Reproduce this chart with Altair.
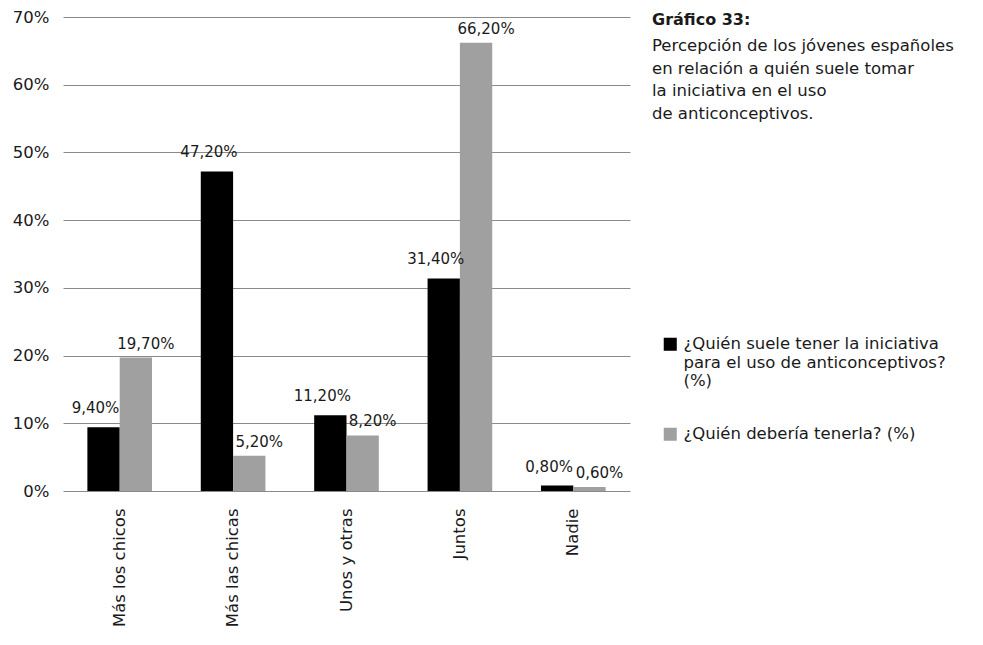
import altair as alt
import pandas as pd

categories = ["Más los chicos", "Más las chicas", "Unos y otras", "Juntos", "Nadie"]
series = [
    "¿Quién suele tener la iniciativa|para el uso de anticonceptivos?|(%)",
    "¿Quién debería tenerla? (%)",
]
tiene = [9.4, 47.2, 11.2, 31.4, 0.8]
deberia = [19.7, 5.2, 8.2, 66.2, 0.6]
y_ticks = [0, 10, 20, 30, 40, 50, 60, 70]
title_bold = "Gráfico 33:"
title_lines = [
    "Percepción de los jóvenes españoles",
    "en relación a quién suele tomar",
    "la iniciativa en el uso",
    "de anticonceptivos.",
]
colors = ["#000000", "#a0a0a0"]

rows = []
for c, a, b in zip(categories, tiene, deberia):
    rows.append({"cat": c, "serie": series[0], "value": a})
    rows.append({"cat": c, "serie": series[1], "value": b})
df = pd.DataFrame(rows)

FONT = "DejaVu Sans"
TXT = "#1a1a1a"
W, H = 567, 474
BODY = 16.5

base = alt.Chart(df).encode(
    x=alt.X("cat:N", sort=categories,
            scale=alt.Scale(paddingInner=0.43, paddingOuter=0.215),
            axis=alt.Axis(title=None, labelAngle=-90, labelFontSize=16.5, labelFont=FONT,
                          labelColor=TXT, labelPadding=17, domain=False, ticks=False,
                          labelLimit=200)),
    xOffset=alt.XOffset("serie:N", sort=series),
)

bars = base.mark_bar().encode(
    y=alt.Y("value:Q", scale=alt.Scale(domain=[0, 70], nice=False),
            axis=alt.Axis(title=None, values=y_ticks, labelExpr="datum.value + '%'",
                          labelFontSize=16.5, labelFont=FONT, labelColor=TXT,
                          labelPadding=14, domain=False, ticks=False,
                          grid=True, gridColor="#8a8a8a", gridWidth=1)),
    color=alt.Color("serie:N", sort=series,
                    scale=alt.Scale(domain=series, range=colors),
                    legend=alt.Legend(title=None, orient="none", legendX=599, legendY=319,
                                      symbolType="square", symbolSize=170,
                                      symbolStrokeWidth=0, labelFont=FONT,
                                      labelFontSize=BODY, labelColor=TXT,
                                      labelLimit=400, rowPadding=36, labelOffset=5,
                                      labelExpr="split(datum.label, '|')")),
)

label_calc = "replace(format(datum.value, '.2f'), '.', ',') + '%'"

labels_a = base.mark_text(baseline="bottom", dy=-11, dx=-8, fontSize=15, font=FONT,
                          color=TXT).encode(
    y=alt.Y("value:Q"),
    text=alt.Text("label:N"),
).transform_filter(alt.datum.serie == series[0]).transform_calculate(label=label_calc)

labels_b = base.mark_text(baseline="bottom", dy=-6, dx=10, fontSize=15, font=FONT,
                          color=TXT).encode(
    y=alt.Y("value:Q"),
    text=alt.Text("label:N"),
).transform_filter(alt.datum.serie == series[1]).transform_calculate(label=label_calc)

one = pd.DataFrame({"k": [0]})
t_bold = alt.Chart(one).mark_text(
    text=title_bold, align="left", baseline="middle", fontSize=16, fontWeight="bold",
    font=FONT, color=TXT
).encode(x=alt.value(589), y=alt.value(3))
t_rest = alt.Chart(one).mark_text(
    text=title_lines, align="left", baseline="alphabetic", fontSize=BODY, lineHeight=22.7,
    font=FONT, color=TXT
).encode(x=alt.value(589), y=alt.value(34))

chart = alt.layer(bars, labels_a, labels_b, t_bold, t_rest).properties(
    width=W, height=H,
    autosize=alt.AutoSizeParams(type="none"),
    padding={"left": 55, "top": 9, "right": 345, "bottom": 146},
).configure_view(stroke=None)

chart.save("out.html", embed_options={"renderer": "svg", "actions": False})
